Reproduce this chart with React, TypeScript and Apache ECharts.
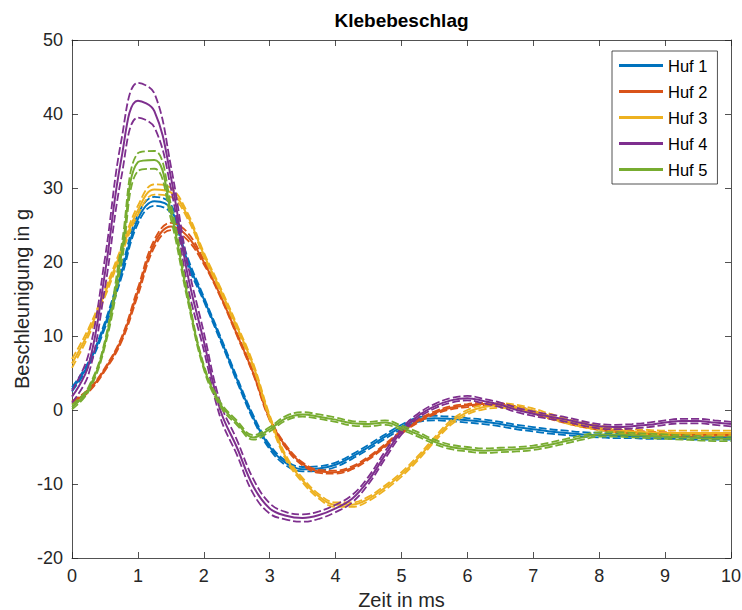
import React, { useEffect, useRef } from "react";
import * as echarts from "echarts";

const timeMs = [0, 0.25, 0.5, 0.75, 1, 1.25, 1.5, 1.75, 2, 2.25, 2.5, 2.75, 3, 3.25, 3.5, 3.75, 4, 4.25, 4.5, 4.75, 5, 5.25, 5.5, 5.75, 6, 6.25, 6.5, 6.75, 7, 7.25, 7.5, 7.75, 8, 8.25, 8.5, 8.75, 9, 9.25, 9.5, 9.75, 10];

const huf1Mean = [2.8, 6.2, 11.5, 18.5, 25.8, 28.2, 27.2, 20.2, 15.0, 9.7, 4.2, -1.0, -5.0, -7.2, -8.0, -7.9, -7.4, -6.3, -5.0, -3.6, -2.3, -1.3, -1.1, -1.2, -1.4, -1.6, -1.9, -2.3, -2.6, -2.9, -3.1, -3.3, -3.4, -3.5, -3.5, -3.6, -3.6, -3.6, -3.7, -3.7, -3.7];
const huf1Upper = [3.1, 6.5, 11.9, 19.1, 26.4, 28.8, 27.8, 20.7, 15.3, 10.0, 4.5, -0.7, -4.7, -6.9, -7.7, -7.6, -7.1, -6.0, -4.7, -3.3, -2.0, -1.0, -0.8, -0.9, -1.1, -1.3, -1.6, -2.0, -2.3, -2.6, -2.8, -3.0, -3.1, -3.2, -3.2, -3.3, -3.3, -3.3, -3.4, -3.4, -3.4];
const huf1Lower = [2.5, 5.9, 11.1, 17.9, 25.2, 27.6, 26.6, 19.7, 14.7, 9.4, 3.9, -1.3, -5.3, -7.5, -8.3, -8.2, -7.7, -6.6, -5.3, -3.9, -2.6, -1.6, -1.4, -1.5, -1.7, -1.9, -2.2, -2.6, -2.9, -3.2, -3.4, -3.6, -3.7, -3.8, -3.8, -3.9, -3.9, -3.9, -4.0, -4.0, -4.0];

const huf2Mean = [1.0, 2.6, 5.5, 9.5, 16.0, 22.5, 24.8, 23.5, 20.0, 15.5, 10.3, 5.0, -1.2, -5.0, -7.3, -8.3, -8.4, -7.8, -6.5, -4.8, -3.0, -1.5, -0.4, 0.3, 0.6, 0.8, 0.7, 0.3, -0.3, -1.0, -1.6, -2.1, -2.5, -2.8, -3.0, -3.1, -3.2, -3.3, -3.3, -3.3, -3.3];
const huf2Upper = [1.2, 2.8, 5.7, 9.8, 16.5, 23.0, 25.3, 24.0, 20.3, 15.7, 10.5, 5.2, -1.0, -4.8, -7.1, -8.1, -8.2, -7.6, -6.3, -4.6, -2.8, -1.3, -0.2, 0.5, 0.8, 1.0, 0.9, 0.5, -0.1, -0.8, -1.4, -1.9, -2.3, -2.6, -2.8, -2.9, -3.0, -3.1, -3.1, -3.1, -3.1];
const huf2Lower = [0.8, 2.4, 5.3, 9.2, 15.5, 22.0, 24.3, 23.0, 19.7, 15.3, 10.1, 4.8, -1.4, -5.2, -7.5, -8.5, -8.6, -8.0, -6.7, -5.0, -3.2, -1.7, -0.6, 0.1, 0.4, 0.6, 0.5, 0.1, -0.5, -1.2, -1.8, -2.3, -2.7, -3.0, -3.2, -3.3, -3.4, -3.5, -3.5, -3.5, -3.5];

const huf3Mean = [6.3, 10.5, 15.8, 21.5, 27.0, 29.8, 29.4, 26.3, 21.0, 16.3, 11.3, 6.0, -1.0, -6.5, -9.5, -11.7, -12.8, -12.8, -12.0, -10.5, -8.7, -6.5, -4.0, -1.7, -0.3, 0.4, 0.6, 0.4, -0.1, -0.8, -1.5, -2.0, -2.4, -2.7, -2.9, -3.0, -3.1, -3.1, -3.1, -3.1, -3.1];
const huf3Upper = [6.9, 11.0, 16.3, 22.0, 27.6, 30.5, 30.0, 26.7, 21.3, 16.6, 11.6, 6.3, -0.7, -6.2, -9.2, -11.4, -12.5, -12.5, -11.7, -10.2, -8.4, -6.2, -3.7, -1.4, 0.0, 0.7, 0.9, 0.7, 0.2, -0.5, -1.2, -1.7, -2.1, -2.4, -2.6, -2.7, -2.8, -2.8, -2.8, -2.8, -2.8];
const huf3Lower = [5.7, 10.0, 15.3, 21.0, 26.4, 29.1, 28.8, 25.9, 20.7, 16.0, 11.0, 5.7, -1.3, -6.8, -9.8, -12.0, -13.1, -13.1, -12.3, -10.8, -9.0, -6.8, -4.3, -2.0, -0.6, 0.1, 0.3, 0.1, -0.4, -1.1, -1.8, -2.3, -2.7, -3.0, -3.2, -3.3, -3.4, -3.4, -3.4, -3.4, -3.4];

const huf4Mean = [1.8, 6.0, 18.5, 34.0, 41.8, 40.4, 31.5, 18.5, 9.3, 0.0, -5.0, -10.3, -13.3, -14.3, -14.6, -14.2, -13.3, -12.0, -9.5, -6.1, -2.9, -0.8, 0.5, 1.3, 1.6, 1.2, 0.7, 0.0, -0.5, -0.9, -1.3, -1.8, -2.2, -2.3, -2.2, -2.0, -1.7, -1.5, -1.5, -1.7, -1.9];
const huf4Upper = [2.6, 7.5, 20.5, 36.5, 44.2, 42.8, 33.0, 20.0, 10.5, 1.0, -4.0, -9.3, -12.6, -13.8, -14.1, -13.7, -12.8, -11.5, -9.0, -5.6, -2.5, -0.5, 0.8, 1.6, 1.9, 1.5, 1.0, 0.3, -0.2, -0.6, -1.0, -1.5, -1.9, -2.0, -1.9, -1.7, -1.4, -1.2, -1.2, -1.4, -1.6];
const huf4Lower = [1.0, 4.8, 16.5, 31.5, 39.5, 38.2, 30.0, 17.0, 8.1, -1.0, -6.0, -11.3, -14.0, -14.8, -15.1, -14.7, -13.8, -12.5, -10.0, -6.6, -3.3, -1.1, 0.2, 1.0, 1.3, 0.9, 0.4, -0.3, -0.8, -1.2, -1.6, -2.1, -2.5, -2.6, -2.5, -2.3, -2.0, -1.8, -1.8, -2.0, -2.2];

const huf5Mean = [0.4, 2.8, 9.0, 21.0, 33.5, 33.8, 26.8, 15.5, 5.8, 0.8, -1.7, -3.7, -2.6, -1.1, -0.6, -0.9, -1.3, -1.8, -1.9, -1.7, -2.4, -3.3, -4.3, -5.0, -5.3, -5.5, -5.4, -5.3, -5.1, -4.7, -4.2, -3.7, -3.3, -3.3, -3.4, -3.5, -3.6, -3.7, -3.8, -3.9, -3.9];
const huf5Upper = [0.7, 3.1, 9.4, 22.2, 34.7, 35.0, 27.8, 16.0, 6.1, 1.1, -1.4, -3.4, -2.3, -0.8, -0.3, -0.6, -1.0, -1.5, -1.6, -1.4, -2.1, -3.0, -4.0, -4.7, -5.0, -5.2, -5.1, -5.0, -4.8, -4.4, -3.9, -3.4, -3.0, -3.0, -3.1, -3.2, -3.3, -3.4, -3.5, -3.6, -3.6];
const huf5Lower = [0.1, 2.5, 8.6, 19.8, 32.3, 32.6, 25.8, 15.0, 5.5, 0.5, -2.0, -4.0, -2.9, -1.4, -0.9, -1.2, -1.6, -2.1, -2.2, -2.0, -2.7, -3.6, -4.6, -5.3, -5.6, -5.8, -5.7, -5.6, -5.4, -5.0, -4.5, -4.0, -3.6, -3.6, -3.7, -3.8, -3.9, -4.0, -4.1, -4.2, -4.2];

const seriesNames = ["Huf 1", "Huf 2", "Huf 3", "Huf 4", "Huf 5"];
const seriesColors = ["#0072BD", "#D95319", "#EDB120", "#7E2F8E", "#77AC30"];
const meanData = [huf1Mean, huf2Mean, huf3Mean, huf4Mean, huf5Mean];
const upperData = [huf1Upper, huf2Upper, huf3Upper, huf4Upper, huf5Upper];
const lowerData = [huf1Lower, huf2Lower, huf3Lower, huf4Lower, huf5Lower];

const titleText = "Klebebeschlag";
const xAxisName = "Zeit in ms";
const yAxisName = "Beschleunigung in g";

const FONT = "'Liberation Sans', Arial, Helvetica, sans-serif";
const INK = "#262626";

function toPairs(ys: number[]) {
  return timeMs.map((t, i) => [t, ys[i]]);
}

export default function App() {
  const ref = useRef<HTMLDivElement>(null);

  useEffect(() => {
    if (!ref.current) return;
    const chart = echarts.init(ref.current, null, { renderer: "svg" });

    const series: any[] = [];
    seriesNames.forEach((name, k) => {
      const color = seriesColors[k];
      series.push({
        name,
        type: "line",
        data: toPairs(meanData[k]),
        smooth: 0.4,
        symbol: "none",
        showSymbol: false,
        silent: true,
        lineStyle: { color, width: 2 },
        itemStyle: { color },
        z: 2 + k,
      });
      [upperData[k], lowerData[k]].forEach((arr, j) => {
        series.push({
          name: name + (j === 0 ? " max" : " min"),
          type: "line",
          data: toPairs(arr),
          smooth: 0.4,
          symbol: "none",
          showSymbol: false,
          silent: true,
          lineStyle: { color, width: 1.8, type: [8, 3] },
          itemStyle: { color },
          z: 2 + k,
        });
      });
    });

    const baseAxisLine = { show: true, onZero: false, lineStyle: { color: INK, width: 0.8 } };
    const tickStyle = { show: true, inside: true, length: 6, lineStyle: { color: INK, width: 0.8 } };

    const option: any = {
      animation: false,
      backgroundColor: "#ffffff",
      textStyle: { fontFamily: FONT },
      grid: { left: 72, right: 11, top: 40, bottom: 52, containLabel: false, outerBoundsMode: "none" },
      legend: {
        data: seriesNames,
        orient: "vertical",
        left: 612,
        top: 51,
        icon: "rect",
        itemWidth: 44,
        itemHeight: 3,
        itemGap: 9,
        padding: [6, 10, 6, 7],
        backgroundColor: "#ffffff",
        borderColor: INK,
        borderWidth: 0.8,
        borderRadius: 0,
        selectedMode: false,
        textStyle: { fontFamily: FONT, fontSize: 16.5, color: "#000000", lineHeight: 14 },
      },
      graphic: [
        {
          type: "text",
          x: 401.5,
          y: 20,
          silent: true,
          style: {
            text: titleText,
            font: `bold 19px ${FONT}`,
            fill: "#000000",
            textAlign: "center",
            textVerticalAlign: "middle",
          },
        },
      ],
      xAxis: [
        {
          type: "value",
          min: 0,
          max: 10,
          interval: 1,
          position: "bottom",
          name: xAxisName,
          nameLocation: "middle",
          nameGap: 32,
          nameTextStyle: { fontFamily: FONT, fontSize: 20, color: INK },
          axisLine: baseAxisLine,
          axisTick: tickStyle,
          axisLabel: { show: true, margin: 9, fontFamily: FONT, fontSize: 18, color: INK },
          splitLine: { show: false },
        },
        {
          type: "value",
          min: 0,
          max: 10,
          interval: 1,
          position: "top",
          axisLine: baseAxisLine,
          axisTick: tickStyle,
          axisLabel: { show: false },
          splitLine: { show: false },
        },
      ],
      yAxis: [
        {
          type: "value",
          min: -20,
          max: 50,
          interval: 10,
          position: "left",
          name: yAxisName,
          nameLocation: "middle",
          nameGap: 40,
          nameMoveOverlap: false,
          nameTextStyle: { fontFamily: FONT, fontSize: 20, color: INK },
          axisLine: baseAxisLine,
          axisTick: tickStyle,
          axisLabel: { show: true, margin: 9, fontFamily: FONT, fontSize: 18, color: INK },
          splitLine: { show: false },
        },
        {
          type: "value",
          min: -20,
          max: 50,
          interval: 10,
          position: "right",
          axisLine: baseAxisLine,
          axisTick: tickStyle,
          axisLabel: { show: false },
          splitLine: { show: false },
        },
      ],
      series,
    };

    chart.setOption(option);
    return () => chart.dispose();
  }, []);

  return (
    <div
      ref={ref}
      style={{ position: "absolute", left: 0, top: 0, width: 742, height: 610, background: "#ffffff" }}
    />
  );
}
